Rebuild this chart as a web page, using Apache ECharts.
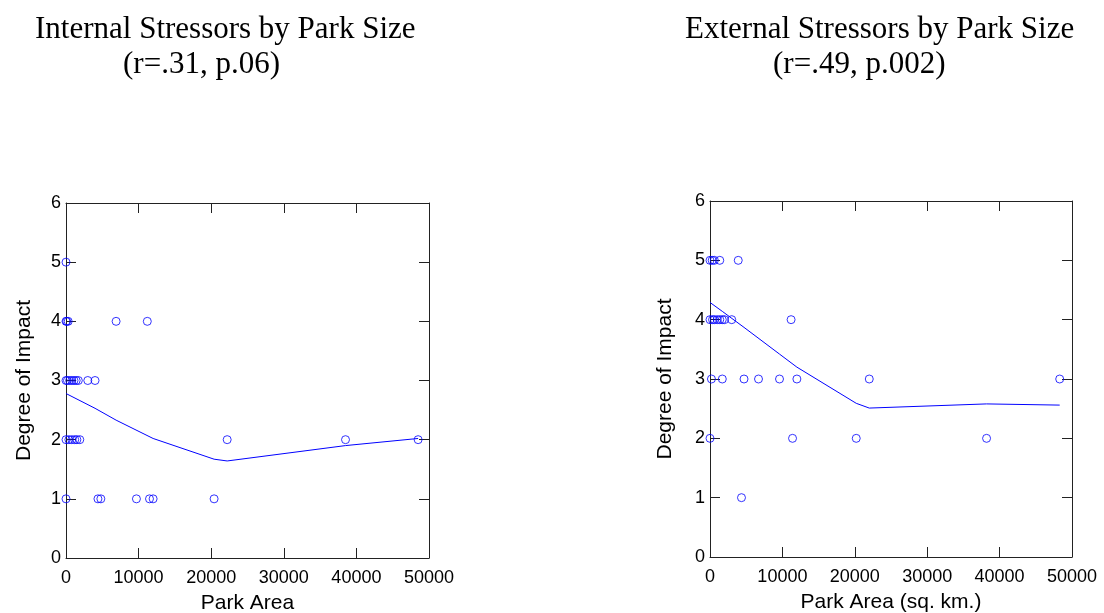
<!DOCTYPE html>
<html>
<head>
<meta charset="utf-8">
<script src="https://cdn.jsdelivr.net/npm/echarts@6/dist/echarts.min.js"></script>
<style>
  html, body { margin: 0; padding: 0; background: #fff; }
  #chart { width: 1104px; height: 613px; }
</style>
</head>
<body>
<div id="chart"></div>
<script>
// Internal stressors: park area (sq. km) vs degree of impact
const internalArea = [
  0,
  0, 100, 300, 6900, 11200,
  0, 200, 500, 800, 1100, 1400, 1700, 3000, 4000,
  0, 400, 800, 1200, 1500, 1900, 22200, 38500, 48500,
  0, 4400, 4800, 9700, 11500, 12000, 20400,
]
const internalImpact = [
  5,
  4, 4, 4, 4, 4,
  3, 3, 3, 3, 3, 3, 3, 3, 3,
  2, 2, 2, 2, 2, 2, 2, 2, 2,
  1, 1, 1, 1, 1, 1, 1,
]
const internalFitX = [0, 4000, 6900, 12000, 20400, 22200, 38500, 48500]
const internalFitY = [2.78, 2.53, 2.33, 2.02, 1.67, 1.64, 1.90, 2.02]

// External stressors
const externalArea = [
  0, 300, 600, 1350, 3900,
  0, 350, 600, 1000, 1350, 1700, 2000, 3000, 11200,
  200, 1700, 4700, 6700, 9600, 12000, 22000, 48300,
  0, 11400, 20200, 38200,
  4350,
]
const externalImpact = [
  5, 5, 5, 5, 5,
  4, 4, 4, 4, 4, 4, 4, 4, 4,
  3, 3, 3, 3, 3, 3, 3, 3,
  2, 2, 2, 2,
  1,
]
const externalFitX = [0, 1700, 4700, 9600, 12000, 20200, 22000, 38200, 48300]
const externalFitY = [4.29, 4.14, 3.87, 3.42, 3.20, 2.59, 2.51, 2.58, 2.56]

const xTicks = [0, 10000, 20000, 30000, 40000, 50000]
const yTicks = [0, 1, 2, 3, 4, 5, 6]

const blue = '#0000ff'
const axisColor = '#222'
const sans = 'Liberation Sans, Arial, sans-serif'
const serif = 'Liberation Serif, Times New Roman, serif'

const zip = (xs, ys) => xs.map((x, i) => [x, ys[i]])

const chart = echarts.init(document.getElementById('chart'))

function xAxes(gridIndex, name) {
  const base = {
    gridIndex,
    type: 'value',
    min: xTicks[0],
    max: xTicks[xTicks.length - 1],
    interval: 10000,
    splitLine: { show: false },
    axisLine: { show: true, onZero: false, lineStyle: { color: axisColor, width: 1 } },
    axisTick: { show: true, inside: true, length: 10, lineStyle: { color: axisColor } },
  }
  return [
    {
      ...base,
      position: 'bottom',
      name,
      nameLocation: 'middle',
      nameGap: 35,
      nameTextStyle: { color: '#000', fontFamily: sans, fontSize: 21 },
      axisLabel: {
        color: '#000', fontFamily: sans, fontSize: 18, margin: 11,
        formatter: v => String(v),
      },
    },
    { ...base, position: 'top', axisLabel: { show: false } },
  ]
}

function yAxes(gridIndex, gap) {
  const base = {
    gridIndex,
    type: 'value',
    min: yTicks[0],
    max: yTicks[yTicks.length - 1],
    interval: 1,
    splitLine: { show: false },
    axisLine: { show: true, onZero: false, lineStyle: { color: axisColor, width: 1 } },
    axisTick: { show: true, inside: true, length: 10, lineStyle: { color: axisColor } },
  }
  return [
    {
      ...base,
      position: 'left',
      name: 'Degree of Impact',
      nameLocation: 'middle',
      nameGap: gap,
      nameTextStyle: { color: '#000', fontFamily: sans, fontSize: 21 },
      axisLabel: { color: '#000', fontFamily: sans, fontSize: 18, margin: 5 },
    },
    { ...base, position: 'right', axisLabel: { show: false } },
  ]
}

function scatter(xi, yi, data) {
  return {
    type: 'scatter',
    xAxisIndex: xi,
    yAxisIndex: yi,
    data,
    symbol: 'circle',
    symbolSize: 8,
    itemStyle: { color: 'transparent', borderColor: blue, borderWidth: 1 },
    silent: true,
  }
}

function fitLine(xi, yi, data) {
  return {
    type: 'line',
    xAxisIndex: xi,
    yAxisIndex: yi,
    data,
    showSymbol: false,
    lineStyle: { color: blue, width: 1 },
    silent: true,
  }
}

const titleStyle = { color: '#000', fontFamily: serif, fontSize: 31, fontWeight: 'normal' }

chart.setOption({
  animation: false,
  title: [
    { text: 'Internal Stressors by Park Size', left: 35, top: 14, textStyle: titleStyle, padding: 0 },
    { text: '(r=.31, p.06)', left: 123, top: 49, textStyle: titleStyle, padding: 0 },
    { text: 'External Stressors by Park Size', left: 685, top: 14, textStyle: titleStyle, padding: 0 },
    { text: '(r=.49, p.002)', left: 773, top: 49, textStyle: titleStyle, padding: 0 },
  ],
  grid: [
    { left: 66, top: 203, width: 363, height: 355, outerBoundsMode: 'none', containLabel: false },
    { left: 710, top: 201, width: 362, height: 356, outerBoundsMode: 'none', containLabel: false },
  ],
  xAxis: [...xAxes(0, 'Park Area'), ...xAxes(1, 'Park Area (sq. km.)')],
  yAxis: [...yAxes(0, 31), ...yAxes(1, 34)],
  series: [
    fitLine(0, 0, zip(internalFitX, internalFitY)),
    scatter(0, 0, zip(internalArea, internalImpact)),
    fitLine(2, 2, zip(externalFitX, externalFitY)),
    scatter(2, 2, zip(externalArea, externalImpact)),
  ],
})

window.addEventListener('resize', () => chart.resize())
</script>
</body>
</html>
